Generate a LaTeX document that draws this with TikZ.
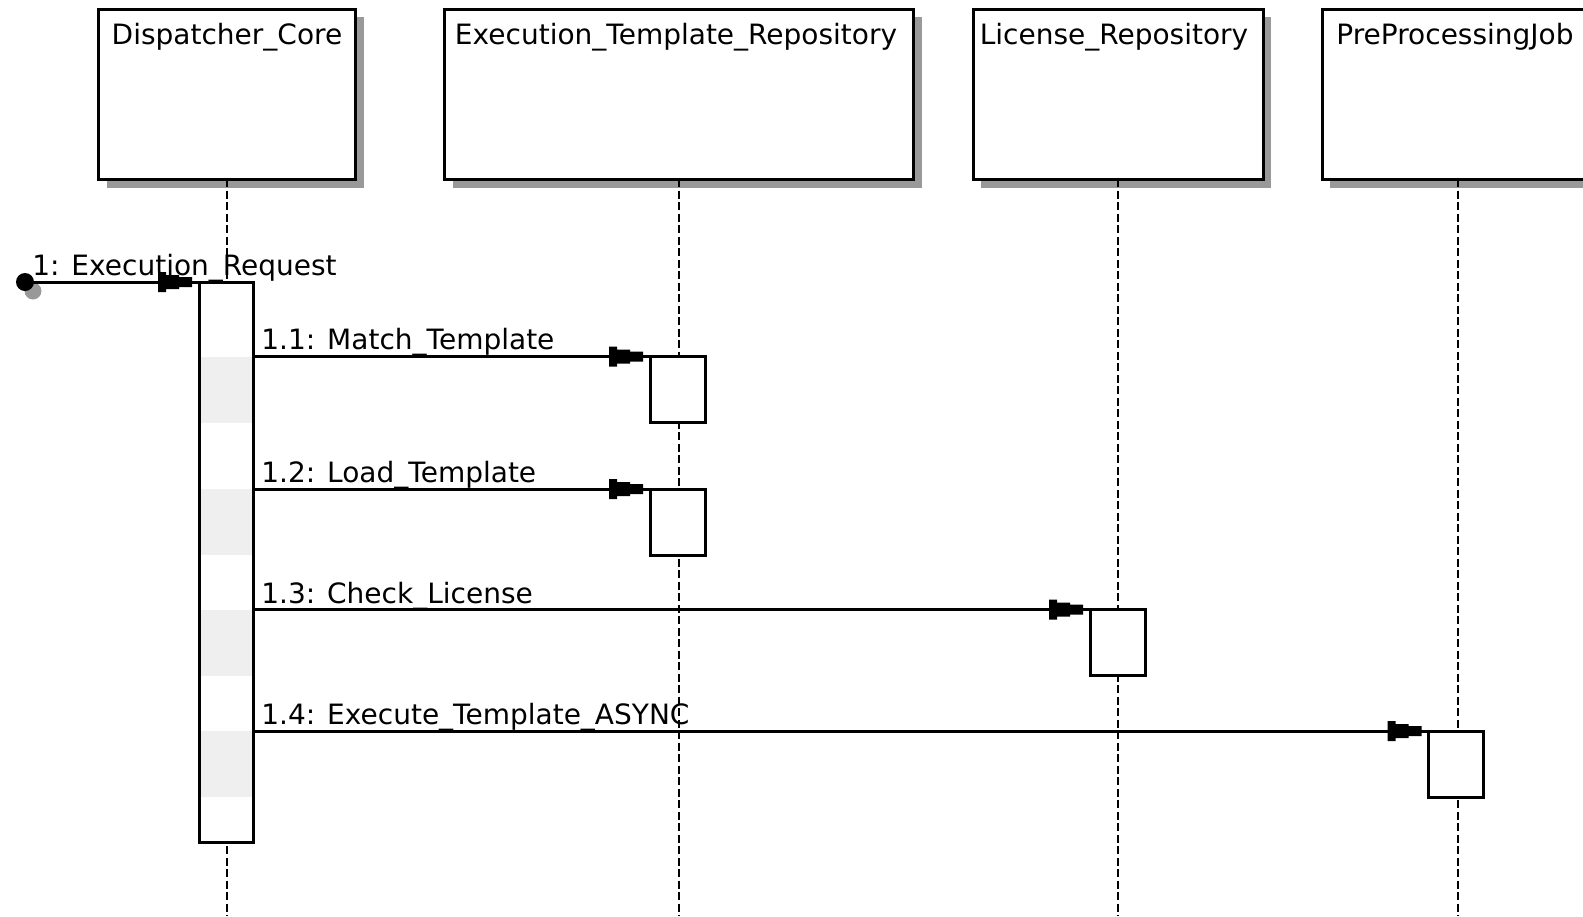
\documentclass[tikz,border=0pt]{standalone}
\usepackage{fontspec}
\setmainfont{DejaVu Sans}
\definecolor{shadowgray}{RGB}{153,153,153}
\definecolor{bandgray}{RGB}{239,239,239}
\begin{document}
\begin{tikzpicture}[x=0.5pt,y=-0.5pt,
  objbox/.style={draw, line width=1.5pt, fill=white, inner sep=0, outer sep=0, minimum height=85pt},
  actbox/.style={draw, line width=1.5pt, fill=white, inner sep=0, outer sep=0, minimum width=27.5pt, minimum height=33pt},
  lifeline/.style={line width=1.3pt, dash pattern=on 4pt off 1.75pt},
  msg/.style={line width=1.5pt},
  lbl/.style={inner sep=0, font=\fontsize{14pt}{16pt}\selectfont},
  headtip/.pic={\fill (-41,-10) -- (-33,-10) -- (-33,-7) -- (-20,-7) -- (-20,-5) -- (-7,-5)
                      -- (-7,5) -- (-20,5) -- (-20,7) -- (-33,7) -- (-33,10) -- (-41,10) -- cycle;}]
\useasboundingbox (0,0) rectangle (1583,916);
\clip (0,0) rectangle (1583,916);

% drop shadows of the object boxes
\foreach \cx/\w in {227/257, 679/469, 1118/290, 1458/272}
  \fill[shadowgray] (\cx-\w/2+8,17) rectangle (\cx+\w/2+8,188);

% object boxes
\node[objbox, minimum width=128.5pt] (dc)  at (227,94)  {};
\node[objbox, minimum width=234.5pt] (etr) at (679,94)  {};
\node[objbox, minimum width=145pt]   (lic) at (1118,94) {};
\node[objbox, minimum width=136pt]   (ppj) at (1458,94) {};

\node[lbl, anchor=base] (dct)  at (227,44)  {Dispatcher\_Core};
\node[lbl, anchor=base] (etrt) at (676,44)  {Execution\_Template\_Repository};
\node[lbl, anchor=base] (lict) at (1114,44) {License\_Repository};
\node[lbl, anchor=base] (ppjt) at (1455,44) {PreProcessingJob};

% lifelines
\coordinate (dce)  at (227,916);
\coordinate (etre) at (679,916);
\coordinate (lice) at (1118,916);
\coordinate (ppje) at (1458,916);
\draw[lifeline] (dc.south)  -- (dce);
\draw[lifeline] (etr.south) -- (etre);
\draw[lifeline] (lic.south) -- (lice);
\draw[lifeline] (ppj.south) -- (ppje);

% activations
\node[actbox, minimum width=27pt, minimum height=280pt] (act0) at (226,562) {};
\node[actbox] (a1) at (677.5,389.5) {};
\node[actbox] (a2) at (677.5,522)   {};
\node[actbox] (a3) at (1117.5,642.5) {};
\node[actbox] (a4) at (1456,764) {};

% shaded spans of the caller while each callee is active
\foreach \a in {a1,a2,a3,a4}
  \fill[bandgray] ([xshift=0.75pt]act0.west |- \a.north) rectangle ([xshift=-0.75pt]act0.east |- \a.south);

% found message start point
\coordinate (start) at (25,282);
\fill[shadowgray] (33,291) circle (8.5);
\fill (start) circle (9);

% messages
\draw[msg] (start) -- (act0.north west);
\pic at (act0.north west) {headtip};
\foreach \a in {a1,a2,a3,a4}{
  \draw[msg] (act0.east |- \a.north west) -- (\a.north west);
  \pic at (\a.north west) {headtip};
}

% message labels
\node[lbl, anchor=base west] (m1)  at (32,275)  {1: Execution\_Request};
\node[lbl, anchor=base west] (m11) at (261,349) {1.1: Match\_Template};
\node[lbl, anchor=base west] (m12) at (261,482) {1.2: Load\_Template};
\node[lbl, anchor=base west] (m13) at (261,603) {1.3: Check\_License};
\node[lbl, anchor=base west] (m14) at (261,724) {1.4: Execute\_Template\_ASYNC};
\end{tikzpicture}
\end{document}
